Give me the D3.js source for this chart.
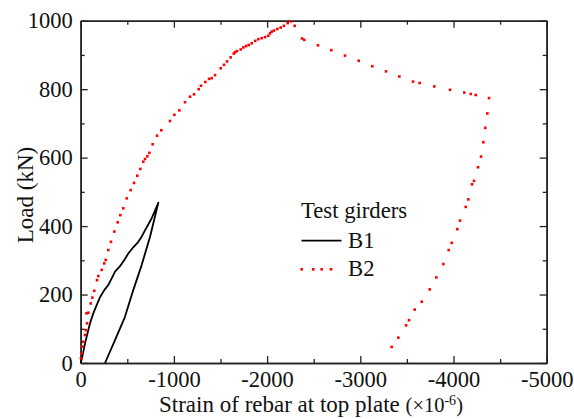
<!DOCTYPE html>
<html>
<head>
<meta charset="utf-8">
<script src="https://cdn.jsdelivr.net/npm/d3@7"></script>
<style>
  html, body { margin: 0; padding: 0; background: #fff; }
  svg text { font-family: 'Liberation Serif', 'Times New Roman', 'DejaVu Serif', serif; }
  .axis path, .axis line { stroke: #222; }
  .axis text { font-size: 22.5px; fill: #111; }
</style>
</head>
<body>
<svg id="grafico" width="574" height="419"></svg>
<script>
// B1 - solid black curve (load then unload), [strain, load]
const b1Strain = [0, -17, -39, -64, -100, -135, -171, -207, -253, -296, -333, -368, -422, -468, -511, -564, -618, -654, -697, -762, -833,
  -744, -654, -564, -475, -368, -261];
const b1Load = [0, 18, 48, 77, 116, 145, 169, 192, 213, 228, 247, 267, 283, 301, 320, 338, 354, 369, 391, 423, 468,
  369, 286, 213, 135, 67, 0];

// B2 - red dotted, one dot per reading
const b2Strain = [-3, -11, -17, -28, -46, -54, -68, -62, -82, -107, -125, -146, -175, -189, -225, -253, -268, -296, -325, -361, -397, -425, -457, -494,
  -536, -572, -607, -640, -672, -690, -715, -737, -772, -819, -865, -958, -1005, -1058, -1119, -1173, -1216, -1266, -1291, -1337, -1377, -1405,
  -1441, -1502, -1538, -1570, -1609, -1642, -1656, -1677, -1717, -1745, -1774, -1803, -1835, -1873, -1906, -1942, -1978, -2013, -2031, -2049,
  -2074, -2110, -2146, -2181, -2221, -2257, -2296, -2375, -2399, -2546, -2689, -2836, -2983, -3129, -3276, -3419, -3566, -3637, -3794,
  -3963, -4116, -4185, -4238, -4381, -4363, -4341, -4320, -4295, -4263, -4220, -4199, -4159, -4131, -4070, -4041, -3981, -3948, -3891,
  -3816, -3745, -3659, -3584, -3523, -3491, -3408, -3336];
const b2Load = [14, 28, 48, 62, 82, 96, 116, 145, 147, 174, 191, 211, 242, 254, 272, 291, 301, 330, 354, 384, 411, 432, 452, 481,
  505, 526, 547, 567, 588, 596, 604, 614, 639, 664, 680, 707, 725, 738, 762, 778, 785, 800, 810, 821, 830, 832,
  841, 861, 871, 881, 893, 904, 908, 911, 916, 922, 926, 929, 934, 941, 946, 949, 952, 956, 963, 968,
  971, 976, 980, 985, 993, 998, 985, 948, 944, 928, 914, 898, 883, 867, 852, 837, 822, 818, 808,
  798, 790, 786, 783, 774, 729, 687, 645, 603, 572, 532, 522, 478, 456, 416, 391, 351, 330, 289,
  250, 215, 179, 156, 125, 110, 74, 47];

const xTicks = [0, -1000, -2000, -3000, -4000, -5000];
const xMinor = [-500, -1500, -2500, -3500, -4500];
const yTicks = [0, 200, 400, 600, 800, 1000];
const yMinor = [100, 300, 500, 700, 900];
const seriesNames = ['B1', 'B2'];

const esq = 80.7, topo = 20.7, larg = 466, alt = 342.3;
const SERIF = "'Liberation Serif', 'Times New Roman', 'DejaVu Serif', serif";

const svg = d3.select('#grafico');
const x = d3.scaleLinear().domain([0, -5000]).range([esq, esq + larg]);
const y = d3.scaleLinear().domain([0, 1000]).range([topo + alt, topo]);

// moldura e ticks (para dentro)
function eixo(gen, tx, ty, vals, size, labels) {
  const g = svg.append('g').attr('class', 'axis')
    .attr('transform', `translate(${tx},${ty})`)
    .call(gen.tickValues(vals).tickSize(size).tickSizeOuter(0)
      .tickFormat(labels ? (d => String(d)) : ''));
  g.attr('font-family', SERIF).attr('font-size', 22.5);
  g.select('.domain').attr('stroke-width', 1.6);
  g.selectAll('.tick line').attr('stroke-width', 1.3);
  return g;
}
const bx = eixo(d3.axisBottom(x), 0, topo + alt, xTicks, -7, true);
bx.selectAll('text').attr('y', 24).attr('dy', null);
eixo(d3.axisBottom(x), 0, topo + alt, xMinor, -4, false);
eixo(d3.axisTop(x), 0, topo, xTicks, -7, false);
eixo(d3.axisTop(x), 0, topo, xMinor, -4, false);
const ly = eixo(d3.axisLeft(y), esq, 0, yTicks, -7, true);
ly.selectAll('text').attr('x', -8);
eixo(d3.axisLeft(y), esq, 0, yMinor, -4, false);
eixo(d3.axisRight(y), esq + larg, 0, yTicks, -7, false);
eixo(d3.axisRight(y), esq + larg, 0, yMinor, -4, false);

// B1 linha
const b1 = b1Strain.map((s, i) => [s, b1Load[i]]);
svg.append('path')
  .datum(b1)
  .attr('fill', 'none')
  .attr('stroke', '#000')
  .attr('stroke-width', 1.8)
  .attr('stroke-linejoin', 'round')
  .attr('d', d3.line().x(d => x(d[0])).y(d => y(d[1])));

// B2 pontos
const b2 = b2Strain.map((s, i) => [s, b2Load[i]]);
svg.append('g').selectAll('rect')
  .data(b2)
  .enter()
  .append('rect')
  .attr('x', d => x(d[0]) - 1.3)
  .attr('y', d => y(d[1]) - 1.3)
  .attr('width', 2.6)
  .attr('height', 2.6)
  .attr('fill', '#ff0000');

// titulos
svg.append('text')
  .attr('x', 311).attr('y', 412)
  .attr('text-anchor', 'middle')
  .attr('font-family', SERIF)
  .attr('font-size', 23)
  .attr('fill', '#111')
  .html('Strain of rebar at top plate <tspan font-size="20.5">(×10</tspan><tspan font-size="14" dy="-7">-6</tspan><tspan font-size="20.5" dy="7">)</tspan>');

svg.append('text')
  .attr('transform', 'translate(33,195) rotate(-90)')
  .attr('text-anchor', 'middle')
  .attr('font-family', SERIF)
  .attr('font-size', 23)
  .attr('fill', '#111')
  .text('Load (kN)');

// legenda
const leg = svg.append('g').attr('font-family', SERIF).attr('font-size', 22.7).attr('fill', '#111');
leg.append('text').attr('x', 301).attr('y', 218).text('Test girders');
leg.append('line').attr('x1', 301.5).attr('x2', 341.5).attr('y1', 240.7).attr('y2', 240.7)
  .attr('stroke', '#000').attr('stroke-width', 1.8);
leg.append('text').attr('x', 348).attr('y', 248).text(seriesNames[0]);
leg.selectAll('rect.lg')
  .data([301.7, 313.3, 321.7, 331])
  .enter()
  .append('rect')
  .attr('x', d => d - 1.3).attr('y', 268)
  .attr('width', 2.6).attr('height', 2.6)
  .attr('fill', '#ff0000');
leg.append('text').attr('x', 348).attr('y', 276).text(seriesNames[1]);
</script>
</body>
</html>
